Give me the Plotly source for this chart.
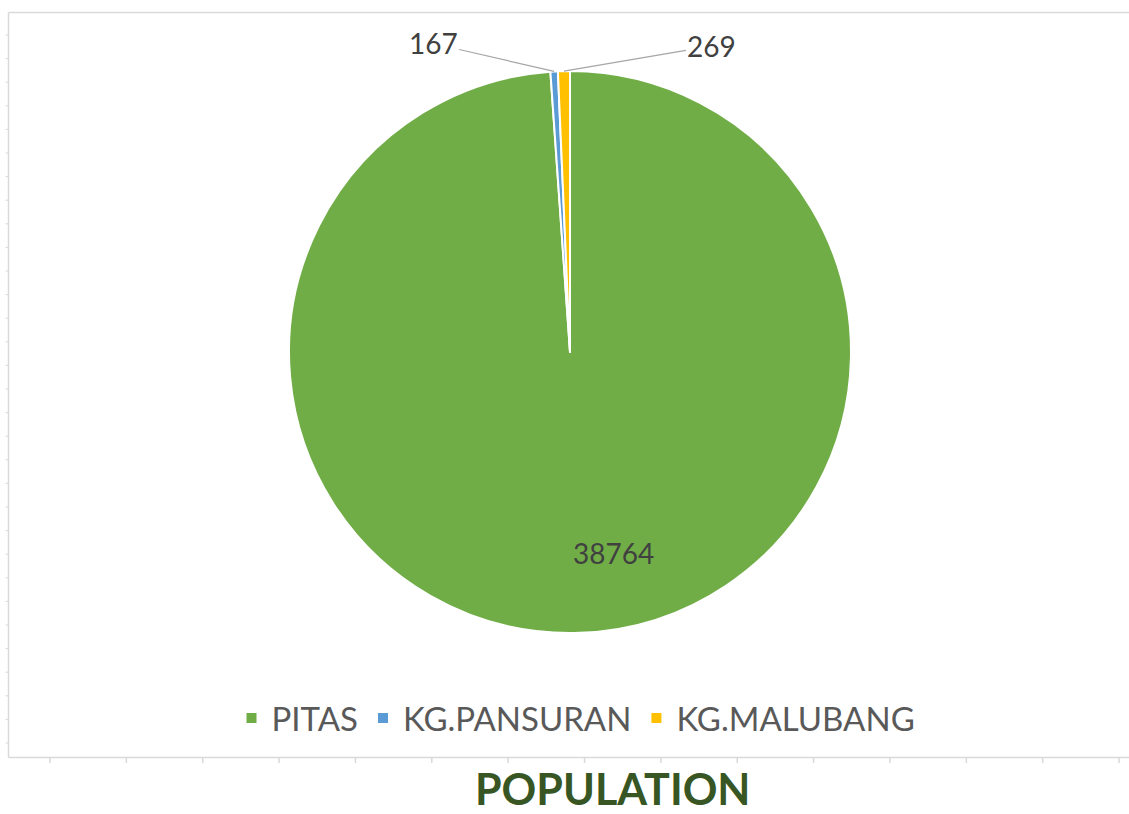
import math
import plotly.graph_objects as go

# ---- data ----
categories = ["PITAS", "KG.PANSURAN", "KG.MALUBANG"]
population = [38764, 167, 269]
colors = ["#70AD47", "#5B9BD5", "#FFC000"]
chart_title = "POPULATION"

# ---- geometry (pixels of the 1129x814 canvas) ----
W, H = 1129, 814
CX, CY, R = 570, 352, 281


def px(x):
    return x / W


def py(y):
    return 1 - y / H


fig = go.Figure(
    go.Pie(
        labels=categories,
        values=population,
        sort=False,
        direction="clockwise",
        rotation=0,
        marker=dict(colors=colors, line=dict(color="white", width=2)),
        textinfo="none",
        hoverinfo="label+value",
        domain=dict(x=[px(CX - R), px(CX + R)], y=[py(CY + R), py(CY - R)]),
    )
)

# label positions computed from slice mid-angles
total = sum(population)
cum = 0
mids = []
for v in population:
    mids.append((cum + v / 2) / total * 2 * math.pi)
    cum += v

label_font = dict(family="Lato, Open Sans, sans-serif", size=28, color="#404040")
annotations = []
# big slice: inside label
a0 = mids[0]
annotations.append(dict(
    x=px(CX + 0.74 * R * math.sin(a0)), y=py(CY - 0.74 * R * math.cos(a0)),
    xref="paper", yref="paper", text=str(population[0]), showarrow=False,
    xshift=36, yshift=-12, font=label_font,
))
# small slices: outside labels with leader lines
offsets = [None, (-121, -28), (148, -25)]
for i in (1, 2):
    a = mids[i]
    annotations.append(dict(
        x=px(CX + R * math.sin(a)), y=py(CY - R * math.cos(a)),
        xref="paper", yref="paper", text=str(population[i]),
        showarrow=True, arrowhead=0, arrowwidth=1.2, arrowcolor="#A6A6A6",
        ax=offsets[i][0], ay=offsets[i][1], font=label_font,
    ))

# title below the chart
annotations.append(dict(
    x=px(613), y=py(788), xref="paper", yref="paper", text="<b>" + chart_title + "</b>",
    showarrow=False, xanchor="center", yanchor="middle",
    font=dict(family="Lato, Open Sans, sans-serif", size=43, color="#375623"),
))

# spreadsheet-like frame and tick marks
grid_col = "#D9D9D9"
shapes = [
    dict(type="line", xref="paper", yref="paper", x0=px(8.5), x1=px(1129), y0=py(12.5), y1=py(12.5),
         line=dict(color=grid_col, width=1.5)),
    dict(type="line", xref="paper", yref="paper", x0=px(8.5), x1=px(8.5), y0=py(12.5), y1=py(757.5),
         line=dict(color=grid_col, width=1.5)),
    dict(type="line", xref="paper", yref="paper", x0=px(8.5), x1=px(1129), y0=py(757.5), y1=py(757.5),
         line=dict(color=grid_col, width=1.5)),
]
for k in range(31):
    yy = 35 + 23.6 * k
    shapes.append(dict(type="line", xref="paper", yref="paper", x0=px(5.5), x1=px(8.5), y0=py(yy), y1=py(yy),
                       line=dict(color=grid_col, width=1)))
for k in range(15):
    xx = 50 + 76.36 * k
    shapes.append(dict(type="line", xref="paper", yref="paper", x0=px(xx), x1=px(xx), y0=py(758), y1=py(763),
                       line=dict(color=grid_col, width=1.5)))

fig.update_layout(
    width=W, height=H,
    margin=dict(l=0, r=0, t=0, b=0),
    paper_bgcolor="white", plot_bgcolor="white",
    showlegend=True,
    legend=dict(
        orientation="h", x=px(576), xanchor="center", y=py(718), yanchor="middle",
        font=dict(family="Lato, Open Sans, sans-serif", size=33, color="#595959"),
        itemclick=False,
    ),
    annotations=annotations,
    shapes=shapes,
)

fig.write_html(
    "out.html",
    config={"displayModeBar": False},
    post_script="document.body.style.margin='0';document.body.style.overflow='hidden';",
)
